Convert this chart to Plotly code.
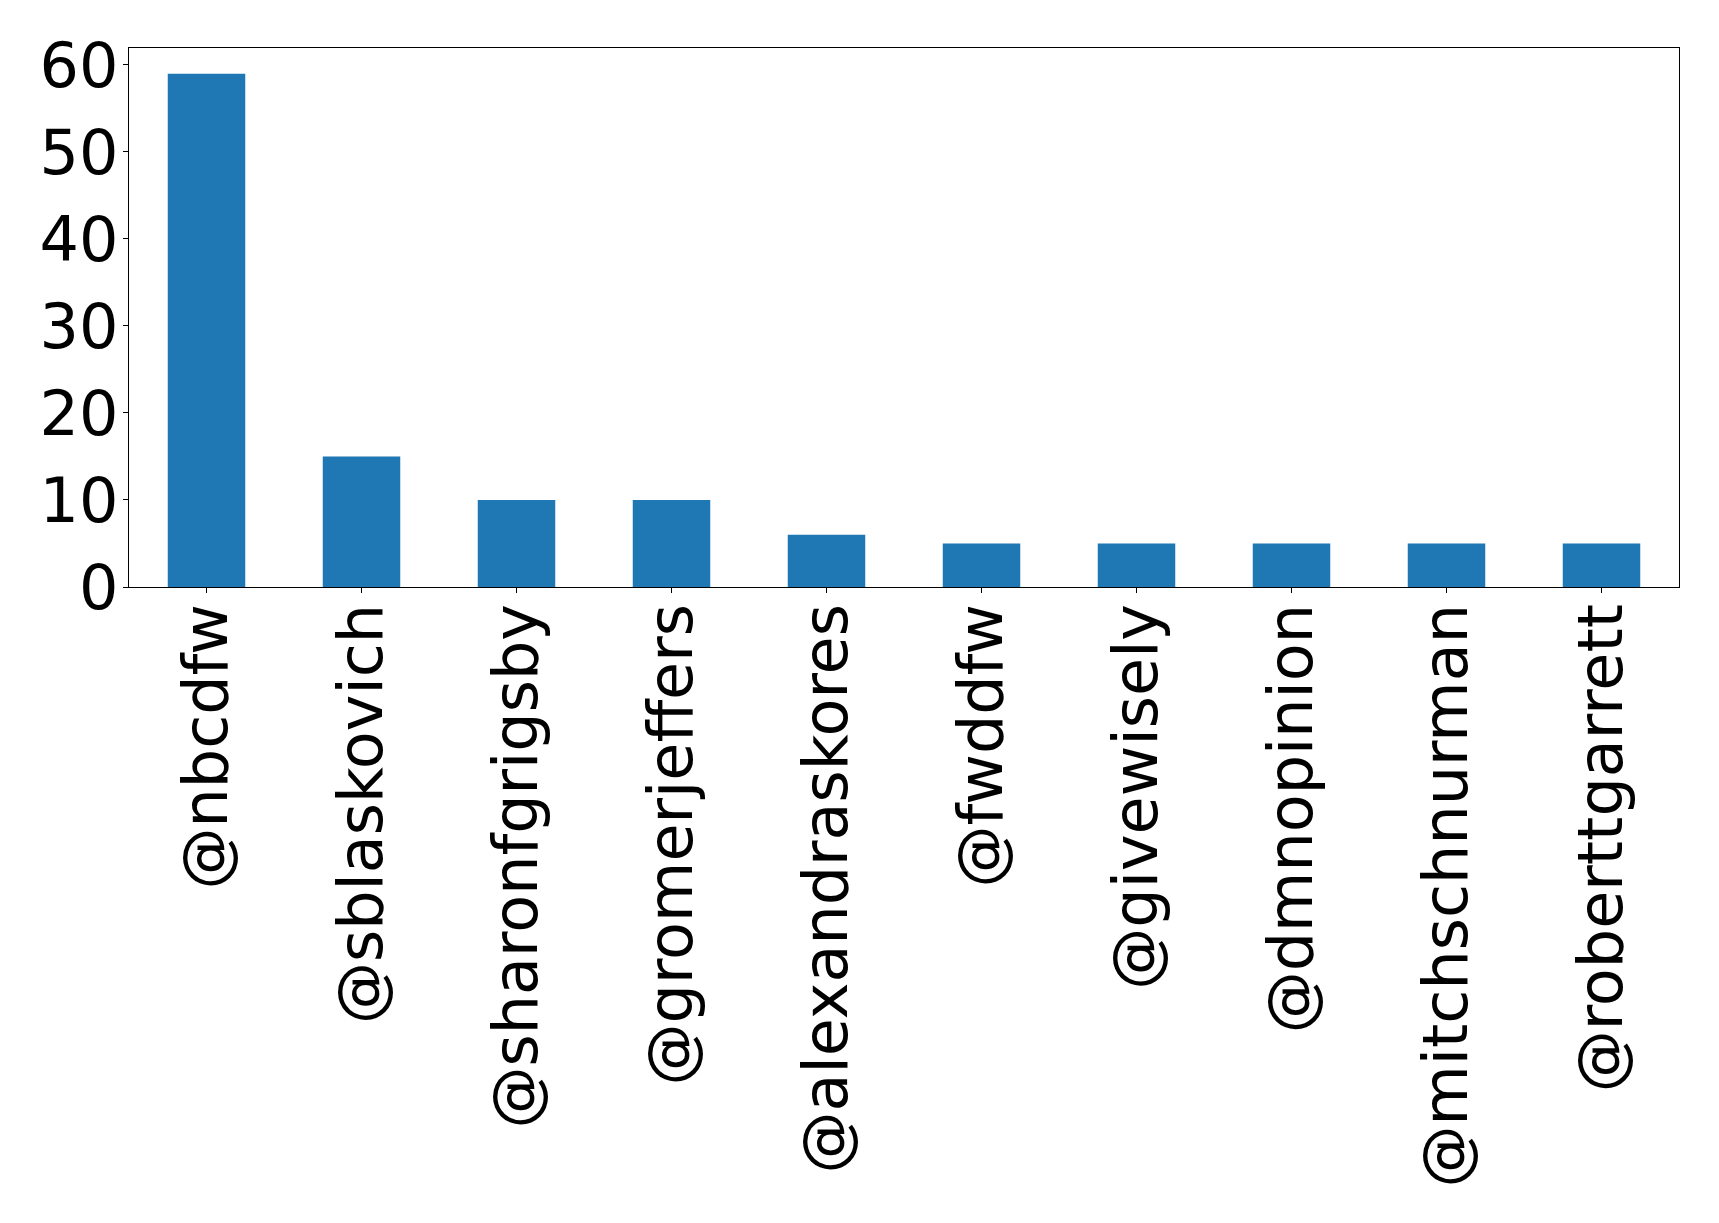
import plotly.graph_objects as go

handles = ["@nbcdfw", "@sblaskovich", "@sharonfgrigsby", "@gromerjeffers",
           "@alexandraskores", "@fwddfw", "@givewisely", "@dmnopinion",
           "@mitchschnurman", "@roberttgarrett"]
counts = [59, 15, 10, 10, 6, 5, 5, 5, 5, 5]
y_ticks = [0, 10, 20, 30, 40, 50, 60]

fig = go.Figure(go.Bar(x=handles, y=counts, marker_color="#1f77b4",
                       marker_line_width=0))

font = dict(family="DejaVu Sans", size=62, color="black")
fig.update_layout(
    width=1719, height=1223,
    margin=dict(l=121, r=48, t=40, b=644, autoexpand=False),
    paper_bgcolor="white", plot_bgcolor="white",
    bargap=0.5, showlegend=False, font=font,
)
fig.update_xaxes(type="category", range=[-0.5, 9.5], tickangle=-90,
                 ticks="outside", ticklen=5, tickcolor="black",
                 ticklabelstandoff=-14,
                 showline=True, linecolor="black", linewidth=1.3, mirror=True,
                 showgrid=False, tickfont=font)
fig.update_yaxes(range=[0, 61.95], tickvals=y_ticks, ticks="outside", ticklen=5,
                 tickcolor="black", ticklabelstandoff=-8,
                 showline=True, linecolor="black",
                 linewidth=1.3, mirror=True, showgrid=False, zeroline=False,
                 tickfont=font)
fig.write_html("out.html")
